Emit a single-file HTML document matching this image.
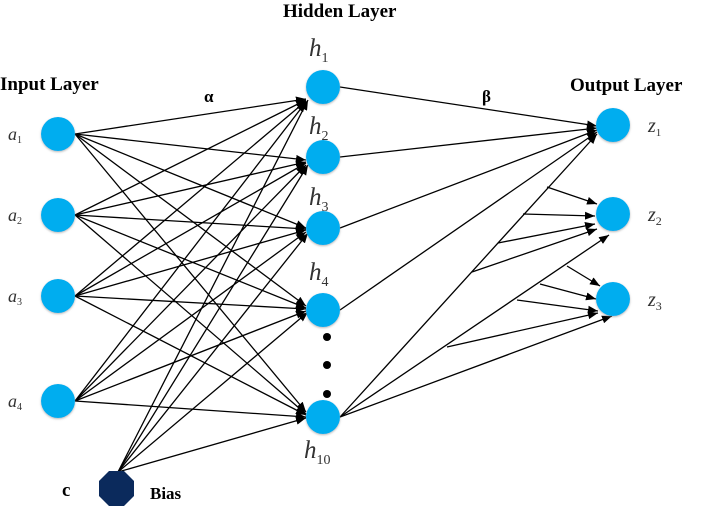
<!DOCTYPE html>
<html><head><style>body{margin:0;background:#fff}svg{display:block}</style></head><body>
<svg width="707" height="512" viewBox="0 0 707 512" xmlns="http://www.w3.org/2000/svg" font-family="Liberation Serif, serif">
<defs><marker id="a" markerWidth="10" markerHeight="8" refX="10" refY="4" orient="auto" markerUnits="userSpaceOnUse"><path d="M0,0L10,4L0,8z" fill="#000"/></marker>
<filter id="s"><feDropShadow dx="0" dy="1" stdDeviation="1" flood-color="#888" flood-opacity="0.6"/></filter></defs>
<g stroke="#000" stroke-width="1.3" marker-end="url(#a)" fill="none">
<line x1="75" y1="134" x2="306" y2="99"/><line x1="75" y1="134" x2="306" y2="160"/><line x1="75" y1="134" x2="306" y2="228"/><line x1="75" y1="134" x2="306" y2="306"/><line x1="75" y1="134" x2="306" y2="412"/>
<line x1="75" y1="215" x2="306" y2="100"/><line x1="75" y1="215" x2="306" y2="162"/><line x1="75" y1="215" x2="306" y2="229"/><line x1="75" y1="215" x2="306" y2="308"/><line x1="75" y1="215" x2="306" y2="414"/>
<line x1="75" y1="296" x2="306" y2="101"/><line x1="75" y1="296" x2="306" y2="163"/><line x1="75" y1="296" x2="306" y2="230"/><line x1="75" y1="296" x2="306" y2="309"/><line x1="75" y1="296" x2="306" y2="415"/>
<line x1="75" y1="401" x2="306" y2="102"/><line x1="75" y1="401" x2="306" y2="165"/><line x1="75" y1="401" x2="306" y2="232"/><line x1="75" y1="401" x2="306" y2="311"/><line x1="75" y1="401" x2="306" y2="417"/>
<line x1="118" y1="472" x2="308" y2="100"/><line x1="118" y1="472" x2="308" y2="165"/><line x1="118" y1="472" x2="308" y2="233"/><line x1="118" y1="472" x2="308" y2="312"/><line x1="118" y1="472" x2="306" y2="418"/>
<!-- hidden to z1 -->
<line x1="340" y1="87" x2="597" y2="126"/><line x1="340" y1="157" x2="597" y2="128"/><line x1="340" y1="228" x2="597" y2="130"/><line x1="340" y1="310" x2="597" y2="132"/><line x1="340" y1="417" x2="597" y2="134"/>
<!-- h10 to z2, z3 -->
<line x1="340" y1="417" x2="609" y2="235"/><line x1="340" y1="417" x2="612" y2="316"/>
<!-- branches to z2 -->
<line x1="547" y1="187" x2="597" y2="204"/><line x1="523" y1="214" x2="595" y2="216"/><line x1="498" y1="243" x2="595" y2="224"/><line x1="472" y1="272" x2="597" y2="229"/>
<!-- branches to z3 -->
<line x1="567" y1="266" x2="600" y2="286"/><line x1="540" y1="284" x2="596" y2="299"/><line x1="517" y1="300" x2="598" y2="311"/><line x1="447" y1="347" x2="598" y2="313"/>
</g>
<g fill="#00adef" filter="url(#s)">
<circle cx="58" cy="134" r="17"/><circle cx="58" cy="215" r="17"/><circle cx="58" cy="296" r="17"/><circle cx="58" cy="401" r="17"/>
<circle cx="323" cy="87" r="17"/><circle cx="323" cy="157" r="17"/><circle cx="323" cy="228" r="17"/><circle cx="323" cy="310" r="17"/><circle cx="323" cy="417" r="17"/>
<circle cx="613" cy="125" r="17"/><circle cx="613" cy="214" r="17"/><circle cx="613" cy="299" r="17"/>
</g>
<polygon points="109,471 124,471 134,481 134,496 124,506 109,506 99,496 99,481" fill="#0b2a5c"/>
<g fill="#000"><circle cx="327" cy="337" r="4"/><circle cx="327" cy="365" r="4"/><circle cx="327" cy="394" r="4"/></g>
<g font-weight="bold" font-size="19">
<text x="283" y="17">Hidden Layer</text><text x="0" y="90">Input Layer</text><text x="570" y="91">Output Layer</text>
<text x="204" y="102" font-size="17">α</text><text x="482" y="102" font-size="17">β</text>
<text x="62" y="496">c</text><text x="150" y="499" font-size="17">Bias</text>
</g>
<g font-style="italic" fill="#333" font-size="25">
<text x="309" y="56">h<tspan font-size="14" font-style="normal" dy="6">1</tspan></text>
<text x="309" y="134">h<tspan font-size="14" font-style="normal" dy="6">2</tspan></text>
<text x="309" y="205">h<tspan font-size="14" font-style="normal" dy="6">3</tspan></text>
<text x="309" y="280">h<tspan font-size="14" font-style="normal" dy="6">4</tspan></text>
<text x="304" y="458">h<tspan font-size="14" font-style="normal" dy="6">10</tspan></text>
<text x="648" y="132" font-size="20">z<tspan font-size="11" font-style="normal" dy="4">1</tspan></text>
<text x="648" y="221" font-size="20">z<tspan font-size="12" font-style="normal" dy="4">2</tspan></text>
<text x="648" y="306" font-size="20">z<tspan font-size="12" font-style="normal" dy="4">3</tspan></text>
<text x="8" y="140" font-size="18">a<tspan font-size="10" font-style="normal" dy="3">1</tspan></text>
<text x="8" y="221" font-size="18">a<tspan font-size="10" font-style="normal" dy="3">2</tspan></text>
<text x="8" y="302" font-size="18">a<tspan font-size="10" font-style="normal" dy="3">3</tspan></text>
<text x="8" y="407" font-size="18">a<tspan font-size="10" font-style="normal" dy="3">4</tspan></text>
</g>
</svg>
</body></html>
